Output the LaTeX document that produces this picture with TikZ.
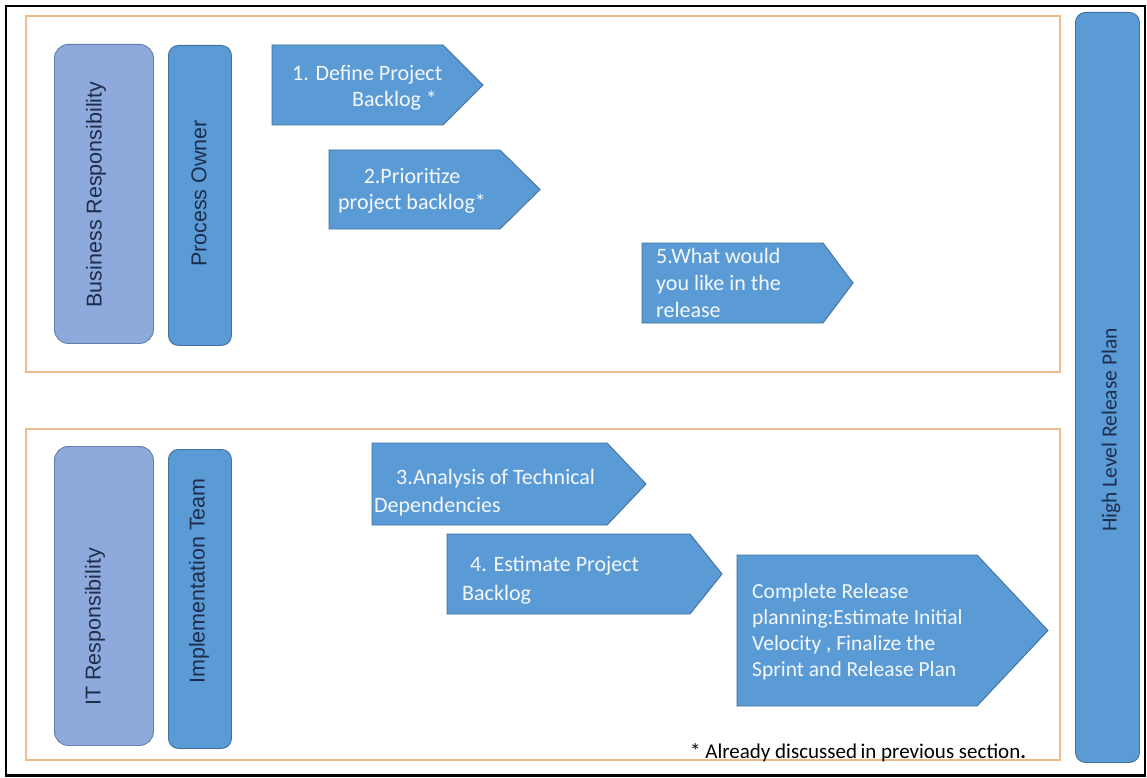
\documentclass[tikz,border=0pt]{standalone}
\usepackage{fontspec}
\setmainfont{Carlito}
\newfontfamily\carl{Carlito}
\newfontfamily\arialf{Liberation Sans}
\definecolor{pblue}{HTML}{5B9BD5}
\definecolor{pborder}{HTML}{41719C}
\definecolor{lblue}{HTML}{8EA9DB}
\definecolor{lborder}{HTML}{5F7FA8}
\definecolor{navy}{HTML}{1F2D4D}
\definecolor{frameor}{HTML}{EBBD8E}
\definecolor{ptext}{HTML}{F4F8FC}
\tikzset{
  pentshape/.style={fill=pblue, draw=pborder, line width=0.9pt},
  ptxt/.style={font=\carl\fontsize{22}{26}\selectfont, text=ptext, inner sep=0pt, anchor=north west, align=left},
  lightbox/.style={fill=lblue, draw=lborder, line width=0.9pt, rounded corners=14pt, inner sep=0pt, anchor=north west},
  darkbox/.style={fill=pblue, draw=pborder, line width=0.9pt, rounded corners=10pt, inner sep=0pt, anchor=north west},
  vlabel/.style={font=\arialf\fontsize{21.5}{26}\selectfont, text=navy, rotate=90, inner sep=0pt},
  frame/.style={draw=frameor, line width=1.3pt}
}
\begin{document}
\begin{tikzpicture}[x=1pt,y=-1pt]
\useasboundingbox (0,0) rectangle (1147,778);
\fill[white] (0,0) rectangle (1147,778);
% outer border
\draw[black, line width=2.8pt] (6,6) rectangle (1145,775.5);
% orange frames
\draw[frame] (26,16) rectangle (1060,372);
\draw[frame] (26,429) rectangle (1060,760);

% left boxes
\node[lightbox, minimum width=99pt, minimum height=299pt] (br) at (54,44) {};
\node[darkbox, minimum width=63pt, minimum height=300pt] (po) at (168,45) {};
\node[lightbox, minimum width=99pt, minimum height=299pt] (itr) at (54,446) {};
\node[darkbox, minimum width=63pt, minimum height=299pt] (imp) at (168,449) {};
\node[darkbox, minimum width=64pt, minimum height=750pt] (hl) at (1075,12) {};

\node[vlabel] (brl) at (96,194.5) {Business Responsibility};
\node[vlabel] (pol) at (199,193.5) {Process Owner};
\node[vlabel] (itrl) at (95,627) {IT Responsibility};
\node[vlabel] (impl) at (199,581) {Implementation Team};
\node[vlabel, font=\carl\fontsize{21.5}{26}\selectfont] (hll) at (1111,430) {High Level Release Plan};

% pentagons
\path[pentshape] (272,45) -- (443,45) -- (483,85) -- (443,125) -- (272,125) -- cycle;
\path[pentshape] (329,150) -- (500,150) -- (540,189.5) -- (500,229) -- (329,229) -- cycle;
\path[pentshape] (642,243) -- (823,243) -- (853,283) -- (823,323) -- (642,323) -- cycle;
\path[pentshape] (372,443) -- (607,443) -- (646,484) -- (607,525) -- (372,525) -- cycle;
\path[pentshape] (447,534) -- (690,534) -- (722,574) -- (690,614) -- (447,614) -- cycle;
\path[pentshape] (737,555) -- (977,555) -- (1048,630.5) -- (977,706) -- (737,706) -- cycle;

% pentagon texts (north = first baseline - 18.2)
\node[ptxt] (t1) at (292,61.8) {\strut 1. Define Project\\\hspace*{60pt}Backlog *};
\node[ptxt, align=center, anchor=north] (t2) at (412,164.8) {\strut 2.Prioritize\\project backlog*};
\node[ptxt, font=\carl\fontsize{22}{27}\selectfont] (t5) at (656,244.1) {\strut 5.What would\\you like in the\\release};
\node[ptxt, font=\carl\fontsize{22}{28}\selectfont] (t3) at (374,464.4) {\strut\hspace*{22pt}3.Analysis of Technical\\Dependencies};
\node[ptxt, font=\carl\fontsize{22}{29}\selectfont] (t4) at (462,550.5) {\strut\hspace*{8pt}4. Estimate Project\\Backlog};
\node[ptxt, font=\carl\fontsize{21.5}{26}\selectfont] (t6) at (752,579.8) {\strut Complete Release\\planning:Estimate Initial\\Velocity , Finalize the\\Sprint and Release Plan};

% footnote
\node[font=\carl\fontsize{21}{25}\selectfont, text=black, inner sep=0pt, anchor=base west] (fn) at (690,758) {* Already discussed\hspace{3.5pt}in previous section\textbf{.}};
\end{tikzpicture}
\end{document}
